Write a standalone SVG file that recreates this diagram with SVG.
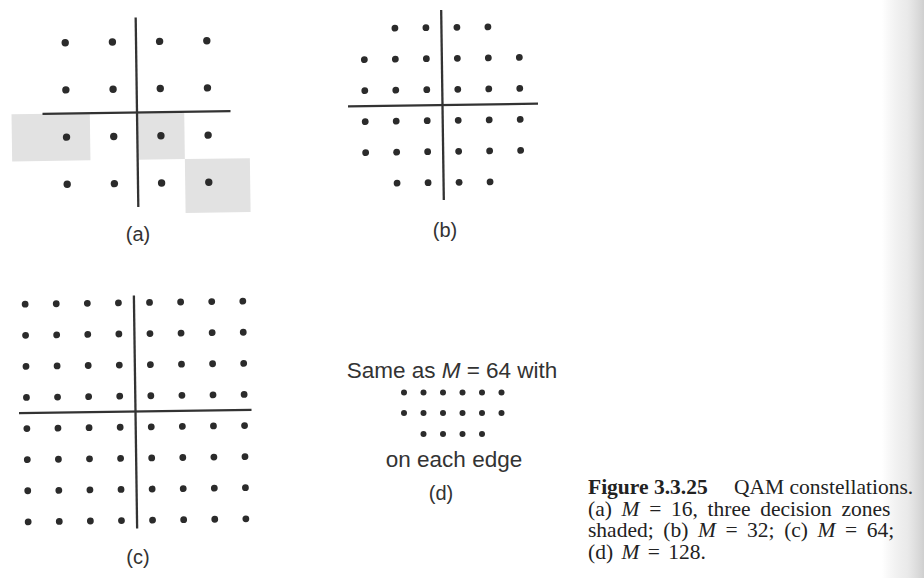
<svg xmlns="http://www.w3.org/2000/svg" width="924" height="578" viewBox="0 0 924 578">
<style>
.dot{fill:#2b2b2b}
.ax{stroke:#333;stroke-width:2.3;fill:none;stroke-linecap:butt}
.zone{fill:#e2e2e2}
.lbl{font-family:"Liberation Sans",Arial,sans-serif;font-size:20px;fill:#333;text-anchor:middle}
.note{font-family:"Liberation Sans",Arial,sans-serif;font-size:22.5px;fill:#333}
.cap{font-family:"Liberation Serif","Times New Roman",serif;font-size:21.5px;fill:#222}
.it{font-style:italic}
</style>
<defs>
<linearGradient id="shade" x1="0" y1="0" x2="1" y2="0">
<stop offset="0" stop-color="#d0d0d0" stop-opacity="0"/>
<stop offset="0.6" stop-color="#dcdcdc" stop-opacity="0.6"/>
<stop offset="1" stop-color="#cfcfcf" stop-opacity="1"/>
</linearGradient>
</defs>
<rect x="0" y="0" width="924" height="578" fill="#ffffff"/>
<rect x="882" y="0" width="42" height="578" fill="url(#shade)"/>

<g id="panel-a" transform="rotate(-0.8 137 112.5) translate(137 112.5)">
<rect class="zone" x="-125.5" y="0" width="78.3" height="47.2"/>
<rect class="zone" x="0" y="0" width="47.2" height="47.2"/>
<rect class="zone" x="47.2" y="47.2" width="65" height="54"/>
<line class="ax" x1="0" y1="-95" x2="0" y2="94.5"/>
<line class="ax" x1="-94.5" y1="0" x2="93.5" y2="0"/>
<g class="dot">
<circle cx="-70.8" cy="-70.8" r="3.7"/><circle cx="-23.6" cy="-70.8" r="3.7"/><circle cx="23.6" cy="-70.8" r="3.7"/><circle cx="70.8" cy="-70.8" r="3.7"/>
<circle cx="-70.8" cy="-23.6" r="3.7"/><circle cx="-23.6" cy="-23.6" r="3.7"/><circle cx="23.6" cy="-23.6" r="3.7"/><circle cx="70.8" cy="-23.6" r="3.7"/>
<circle cx="-70.8" cy="23.6" r="3.7"/><circle cx="-23.6" cy="23.6" r="3.7"/><circle cx="23.6" cy="23.6" r="3.7"/><circle cx="70.8" cy="23.6" r="3.7"/>
<circle cx="-70.8" cy="70.8" r="3.7"/><circle cx="-23.6" cy="70.8" r="3.7"/><circle cx="23.6" cy="70.8" r="3.7"/><circle cx="70.8" cy="70.8" r="3.7"/>
</g>
</g>
<text id="label-a" class="lbl" x="138" y="241">(a)</text>

<g id="panel-b" transform="rotate(-0.8 442.5 105) translate(442.5 105)">
<line class="ax" x1="0" y1="-95" x2="0" y2="95"/>
<line class="ax" x1="-94.5" y1="0" x2="95.5" y2="0"/>
<g class="dot">
<circle cx="-46.5" cy="-77.5" r="3.4"/><circle cx="-15.5" cy="-77.5" r="3.4"/><circle cx="15.5" cy="-77.5" r="3.4"/><circle cx="46.5" cy="-77.5" r="3.4"/>
<circle cx="-77.5" cy="-46.5" r="3.4"/><circle cx="-46.5" cy="-46.5" r="3.4"/><circle cx="-15.5" cy="-46.5" r="3.4"/><circle cx="15.5" cy="-46.5" r="3.4"/><circle cx="46.5" cy="-46.5" r="3.4"/><circle cx="77.5" cy="-46.5" r="3.4"/>
<circle cx="-77.5" cy="-15.5" r="3.4"/><circle cx="-46.5" cy="-15.5" r="3.4"/><circle cx="-15.5" cy="-15.5" r="3.4"/><circle cx="15.5" cy="-15.5" r="3.4"/><circle cx="46.5" cy="-15.5" r="3.4"/><circle cx="77.5" cy="-15.5" r="3.4"/>
<circle cx="-77.5" cy="15.5" r="3.4"/><circle cx="-46.5" cy="15.5" r="3.4"/><circle cx="-15.5" cy="15.5" r="3.4"/><circle cx="15.5" cy="15.5" r="3.4"/><circle cx="46.5" cy="15.5" r="3.4"/><circle cx="77.5" cy="15.5" r="3.4"/>
<circle cx="-77.5" cy="46.5" r="3.4"/><circle cx="-46.5" cy="46.5" r="3.4"/><circle cx="-15.5" cy="46.5" r="3.4"/><circle cx="15.5" cy="46.5" r="3.4"/><circle cx="46.5" cy="46.5" r="3.4"/><circle cx="77.5" cy="46.5" r="3.4"/>
<circle cx="-46.5" cy="77.5" r="3.4"/><circle cx="-15.5" cy="77.5" r="3.4"/><circle cx="15.5" cy="77.5" r="3.4"/><circle cx="46.5" cy="77.5" r="3.4"/>
</g>
</g>
<text id="label-b" class="lbl" x="445" y="237">(b)</text>

<g id="panel-c" transform="rotate(-0.8 135.5 411.5) translate(135.5 411.5)">
<line class="ax" x1="0" y1="-116" x2="0" y2="117"/>
<line class="ax" x1="-116.5" y1="0" x2="116" y2="0"/>
<g class="dot">
<circle cx="-108.85" cy="-108.85" r="3.4"/><circle cx="-77.75" cy="-108.85" r="3.4"/><circle cx="-46.65" cy="-108.85" r="3.4"/><circle cx="-15.55" cy="-108.85" r="3.4"/><circle cx="15.55" cy="-108.85" r="3.4"/><circle cx="46.65" cy="-108.85" r="3.4"/><circle cx="77.75" cy="-108.85" r="3.4"/><circle cx="108.85" cy="-108.85" r="3.4"/>
<circle cx="-108.85" cy="-77.75" r="3.4"/><circle cx="-77.75" cy="-77.75" r="3.4"/><circle cx="-46.65" cy="-77.75" r="3.4"/><circle cx="-15.55" cy="-77.75" r="3.4"/><circle cx="15.55" cy="-77.75" r="3.4"/><circle cx="46.65" cy="-77.75" r="3.4"/><circle cx="77.75" cy="-77.75" r="3.4"/><circle cx="108.85" cy="-77.75" r="3.4"/>
<circle cx="-108.85" cy="-46.65" r="3.4"/><circle cx="-77.75" cy="-46.65" r="3.4"/><circle cx="-46.65" cy="-46.65" r="3.4"/><circle cx="-15.55" cy="-46.65" r="3.4"/><circle cx="15.55" cy="-46.65" r="3.4"/><circle cx="46.65" cy="-46.65" r="3.4"/><circle cx="77.75" cy="-46.65" r="3.4"/><circle cx="108.85" cy="-46.65" r="3.4"/>
<circle cx="-108.85" cy="-15.55" r="3.4"/><circle cx="-77.75" cy="-15.55" r="3.4"/><circle cx="-46.65" cy="-15.55" r="3.4"/><circle cx="-15.55" cy="-15.55" r="3.4"/><circle cx="15.55" cy="-15.55" r="3.4"/><circle cx="46.65" cy="-15.55" r="3.4"/><circle cx="77.75" cy="-15.55" r="3.4"/><circle cx="108.85" cy="-15.55" r="3.4"/>
<circle cx="-108.85" cy="15.55" r="3.4"/><circle cx="-77.75" cy="15.55" r="3.4"/><circle cx="-46.65" cy="15.55" r="3.4"/><circle cx="-15.55" cy="15.55" r="3.4"/><circle cx="15.55" cy="15.55" r="3.4"/><circle cx="46.65" cy="15.55" r="3.4"/><circle cx="77.75" cy="15.55" r="3.4"/><circle cx="108.85" cy="15.55" r="3.4"/>
<circle cx="-108.85" cy="46.65" r="3.4"/><circle cx="-77.75" cy="46.65" r="3.4"/><circle cx="-46.65" cy="46.65" r="3.4"/><circle cx="-15.55" cy="46.65" r="3.4"/><circle cx="15.55" cy="46.65" r="3.4"/><circle cx="46.65" cy="46.65" r="3.4"/><circle cx="77.75" cy="46.65" r="3.4"/><circle cx="108.85" cy="46.65" r="3.4"/>
<circle cx="-108.85" cy="77.75" r="3.4"/><circle cx="-77.75" cy="77.75" r="3.4"/><circle cx="-46.65" cy="77.75" r="3.4"/><circle cx="-15.55" cy="77.75" r="3.4"/><circle cx="15.55" cy="77.75" r="3.4"/><circle cx="46.65" cy="77.75" r="3.4"/><circle cx="77.75" cy="77.75" r="3.4"/><circle cx="108.85" cy="77.75" r="3.4"/>
<circle cx="-108.85" cy="108.85" r="3.4"/><circle cx="-77.75" cy="108.85" r="3.4"/><circle cx="-46.65" cy="108.85" r="3.4"/><circle cx="-15.55" cy="108.85" r="3.4"/><circle cx="15.55" cy="108.85" r="3.4"/><circle cx="46.65" cy="108.85" r="3.4"/><circle cx="77.75" cy="108.85" r="3.4"/><circle cx="108.85" cy="108.85" r="3.4"/>
</g>
</g>
<text id="label-c" class="lbl" x="138" y="564">(c)</text>

<g id="panel-d">
<text class="note" x="452" y="377.5" text-anchor="middle">Same as <tspan class="it">M</tspan> = 64 with</text>
<g class="dot">
<circle cx="404" cy="392.5" r="3"/><circle cx="423.5" cy="392.5" r="3"/><circle cx="443" cy="392.5" r="3"/><circle cx="462.5" cy="392.5" r="3"/><circle cx="482" cy="392.5" r="3"/><circle cx="501.5" cy="392.5" r="3"/>
<circle cx="404" cy="413" r="3"/><circle cx="423.5" cy="413" r="3"/><circle cx="443" cy="413" r="3"/><circle cx="462.5" cy="413" r="3"/><circle cx="482" cy="413" r="3"/><circle cx="501.5" cy="413" r="3"/>
<circle cx="423.5" cy="434" r="3"/><circle cx="443" cy="434" r="3"/><circle cx="462.5" cy="434" r="3"/><circle cx="482" cy="434" r="3"/>
</g>
<text class="note" x="454" y="466.5" text-anchor="middle">on each edge</text>
</g>
<text id="label-d" class="lbl" x="441" y="500">(d)</text>

<g id="caption">
<text class="cap" x="588" y="494"><tspan font-weight="bold">Figure 3.3.25</tspan><tspan x="734">QAM constellations.</tspan><tspan x="588" dy="21.5" word-spacing="4.3">(a) <tspan class="it">M</tspan> = 16, three decision zones</tspan><tspan x="588" dy="21.5" word-spacing="4.2">shaded; (b) <tspan class="it">M</tspan> = 32; (c) <tspan class="it">M</tspan> = 64;</tspan><tspan x="588" dy="21.5" word-spacing="3">(d) <tspan class="it">M</tspan> = 128.</tspan></text>
</g>
</svg>
